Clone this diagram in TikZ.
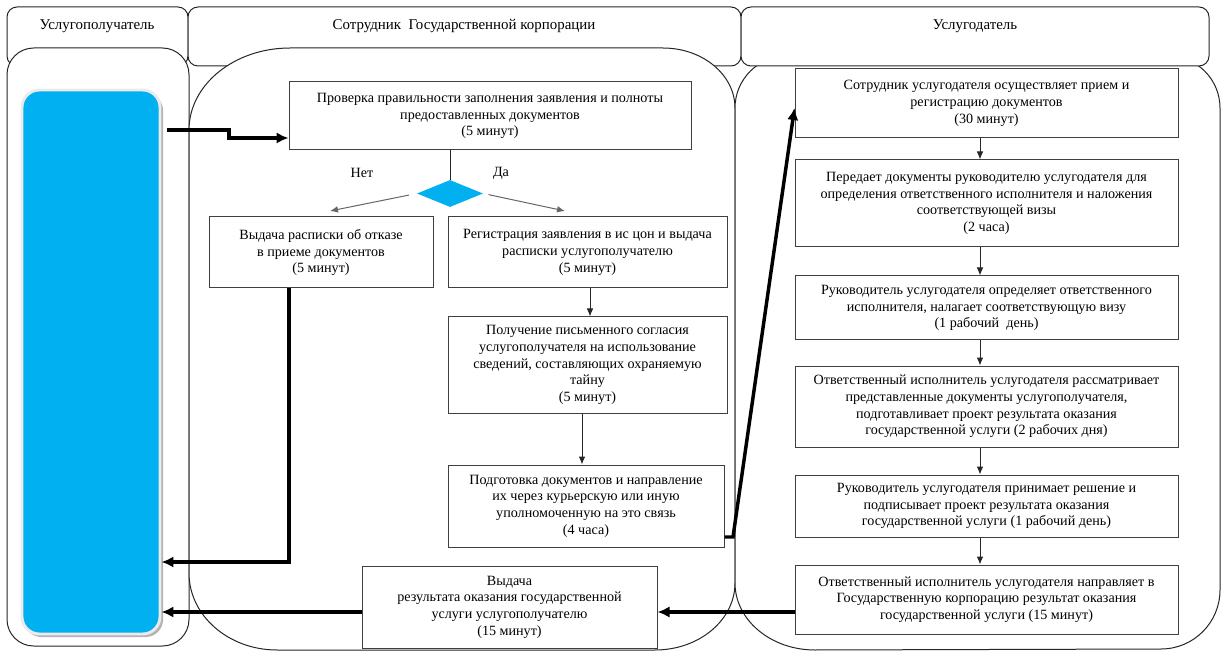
\documentclass[tikz,border=0pt]{standalone}
\usepackage{fontspec}
\setmainfont{Liberation Serif}
\usetikzlibrary{arrows.meta,shapes.geometric}
\definecolor{cyanblue}{RGB}{0,176,240}
\begin{document}
\begin{tikzpicture}[x=0.75pt,y=-0.75pt,
  lane/.style={draw=black!85,line width=0.75pt,fill=white},
  box/.style={draw=black!75,line width=0.75pt,fill=white,inner sep=0pt,align=center,font=\fontsize{10.6}{12.5}\selectfont},
  lbl/.style={inner sep=0pt,font=\fontsize{10.6}{12.5}\selectfont},
  hlbl/.style={inner sep=0pt,font=\fontsize{11.2}{13}\selectfont},
  thinarr/.style={draw=black!85,line width=0.75pt,-{Latex[length=6pt,width=5pt]}},
  grayarr/.style={draw=black!60,line width=0.75pt,-{Latex[length=6pt,width=5pt]}},
  thickarr/.style={draw=black,line width=2.6pt,-{Latex[length=9pt,width=8.5pt]}},
  rbox/.style={box,minimum width=287.25pt},
]
\useasboundingbox[fill=white] (0,0) rectangle (1221,652);

% headers (left, middle)
\draw[lane,rounded corners=7.5pt] (7,7) rectangle (188,66);
\draw[lane,rounded corners=7.5pt] (188,7) rectangle (741,66);

% lanes
\draw[lane,rounded corners=20pt] (7,48) rectangle (189,646);
\draw[lane] (189,130) arc[start angle=180,end angle=90,x radius=75.75pt,y radius=61.5pt]
  -- (663,48) arc[start angle=90,end angle=0,x radius=54pt,y radius=45pt]
  -- (735,583) arc[start angle=0,end angle=-90,x radius=60pt,y radius=50.25pt]
  -- (277,650) arc[start angle=270,end angle=180,x radius=66pt,y radius=57.75pt]
  -- cycle;
\draw[lane] (735,108) arc[start angle=180,end angle=90,radius=39pt]
  -- (1168,56) arc[start angle=90,end angle=0,radius=39pt]
  -- (1220,590) arc[start angle=0,end angle=-90,radius=44.25pt]
  -- (815,650) arc[start angle=270,end angle=180,x radius=60pt,y radius=50.25pt]
  -- cycle;
% right header
\draw[lane,rounded corners=7.5pt] (741,7) rectangle (1209,66);

\node[hlbl] (hl) at (97,26) {Услугополучатель};
\node[hlbl] (hm) at (464,26) {Сотрудник\ \ Государственной корпорации};
\node[hlbl] (hr) at (975,26) {Услугодатель};

% service recipient block
\fill[black!30,rounded corners=13pt] (24,93) rectangle (163,637);
\node[draw=black!8,line width=2.2pt,fill=cyanblue,rounded corners=13pt,minimum width=103.5pt,minimum height=408pt,inner sep=0pt] (svc) at (91,362) {};

% middle column boxes
\node[box,minimum width=301.5pt,minimum height=51pt] (A) at (490,116)
  {Проверка правильности заполнения заявления и полноты\\предоставленных документов\\(5 минут)};
\node[shape=diamond,fill=cyanblue,inner sep=0pt,minimum width=49.5pt,minimum height=20.25pt] (dia) at (450,193.5) {};
\node[lbl] (no) at (362,173) {Нет};
\node[lbl] (yes) at (501,173) {Да};
\node[box,minimum width=168pt,minimum height=53.25pt] (B) at (321,252.5)
  {Выдача расписки об отказе\\в приеме документов\\(5 минут)};
\node[box,minimum width=209.25pt,minimum height=53.25pt] (C) at (587.5,252.5)
  {Регистрация заявления в ис цон и выдача\\расписки услугополучателю\\(5 минут)};
\node[box,minimum width=209.25pt,minimum height=72pt] (D) at (587.5,365)
  {Получение письменного согласия\\услугополучателя на использование\\сведений, составляющих охраняемую\\тайну\\(5 минут)};
\node[box,minimum width=207pt,minimum height=61.5pt] (E) at (586,506)
  {Подготовка документов и направление\\их через курьерскую или иную\\уполномоченную на это связь\\(4 часа)};
\node[box,minimum width=221.25pt,minimum height=61.5pt] (F) at (509.5,607)
  {Выдача\\результата оказания государственной\\услуги услугополучателю\\(15 минут)};

% right column boxes
\node[rbox,minimum height=51.75pt] (R1) at (986.5,103.5)
  {Сотрудник услугодателя осуществляет прием и\\регистрацию документов\\(30 минут)};
\node[rbox,minimum height=65.25pt] (R2) at (986.5,203.5)
  {Передает документы руководителю услугодателя для\\определения ответственного исполнителя и наложения\\соответствующей визы\\(2 часа)};
\node[rbox,minimum height=48pt] (R3) at (986.5,308)
  {Руководитель услугодателя определяет ответственного\\исполнителя, налагает соответствующую визу\\(1 рабочий\ \ день)};
\node[rbox,minimum height=60.75pt] (R4) at (986.5,406.5)
  {Ответственный исполнитель услугодателя рассматривает\\представленные документы услугополучателя,\\подготавливает проект результата оказания\\государственной услуги (2 рабочих дня)};
\node[rbox,minimum height=46.5pt] (R5) at (986.5,506)
  {Руководитель услугодателя принимает решение и\\подписывает проект результата оказания\\государственной услуги (1 рабочий день)};
\node[rbox,minimum height=51.75pt] (R6) at (986.5,599.5)
  {Ответственный исполнитель услугодателя направляет в\\Государственную корпорацию результат оказания\\государственной услуги (15 минут)};

% helper coordinates
\coordinate (xr) at (980,0);
\coordinate (nt) at (330,211);
\coordinate (yt) at (565,211);

% thin connectors
\draw[draw=black!85,line width=0.75pt] (A.south -| dia.north) -- (dia.north);
\draw[grayarr,shorten <=6pt] (dia.west) -- (nt);
\draw[grayarr,shorten <=4pt] (dia.east) -- (yt);
\draw[thinarr] (C.south -| 590,0) -- (D.north -| 590,0);
\draw[thinarr] (D.south -| 582,0) -- (E.north -| 582,0);
\draw[thinarr] (R1.south -| xr) -- (R2.north -| xr);
\draw[thinarr] (R2.south -| xr) -- (R3.north -| xr);
\draw[thinarr] (R3.south -| xr) -- (R4.north -| xr);
\draw[thinarr] (R4.south -| xr) -- (R5.north -| xr);
\draw[thinarr] (R5.south -| xr) -- (R6.north -| xr);

% thick connectors
\draw[thickarr,shorten <=4pt] (svc.east |- 0,130) -- (229,130) -- (229,138) -- (A.west |- 0,138);
\draw[thickarr] (B.south -| 289,0) -- (289,562) -- (svc.east |- 0,562);
\draw[thickarr] (F.west |- 0,612) -- (svc.east |- 0,612);
\draw[thickarr] (R6.west |- 0,612) -- (F.east |- 0,612);
\draw[thickarr] (E.east |- 0,537) -- (733,537) -- (R1.west |- 0,108);
\end{tikzpicture}
\end{document}
